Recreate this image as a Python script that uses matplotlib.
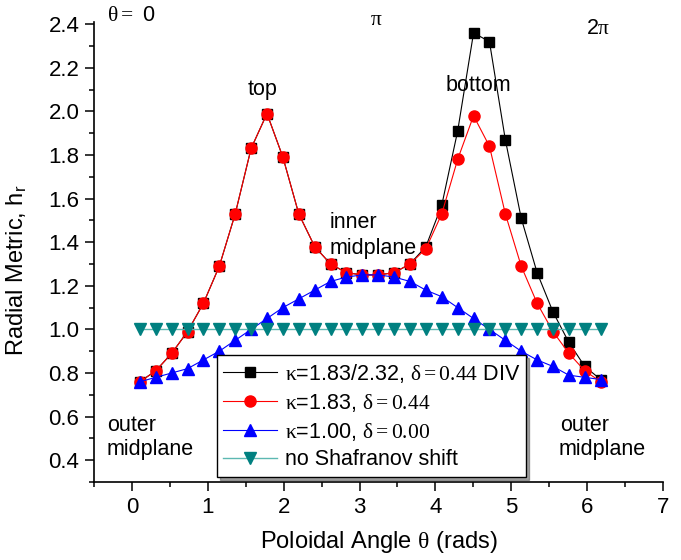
import numpy as np
import matplotlib
matplotlib.use('Agg')
import matplotlib.pyplot as plt
from matplotlib.ticker import MultipleLocator, FormatStrFormatter

plt.rcParams['font.family'] = ['Liberation Sans', 'DejaVu Sans']
plt.rcParams['mathtext.fontset'] = 'custom'
plt.rcParams['mathtext.rm'] = 'Liberation Serif'
plt.rcParams['mathtext.it'] = 'Liberation Serif'
plt.rcParams['mathtext.sf'] = 'Liberation Sans'
plt.rcParams['mathtext.default'] = 'rm'

# poloidal angle of the 30 sample points (cell centres)
theta = (np.arange(30) + 0.5) * 2 * np.pi / 30

h_div = [0.76, 0.81, 0.89, 0.99, 1.12, 1.29, 1.53, 1.83, 1.99, 1.79,
         1.53, 1.38, 1.30, 1.26, 1.25, 1.25, 1.26, 1.30, 1.38, 1.57,
         1.91, 2.36, 2.32, 1.87, 1.51, 1.26, 1.08, 0.94, 0.83, 0.77]
h_elong = [0.76, 0.81, 0.89, 0.99, 1.12, 1.29, 1.53, 1.83, 1.99, 1.79,
           1.53, 1.38, 1.30, 1.26, 1.25, 1.25, 1.26, 1.30, 1.37, 1.53,
           1.78, 1.98, 1.84, 1.53, 1.29, 1.12, 0.99, 0.89, 0.81, 0.76]
h_circ = [0.76, 0.78, 0.80, 0.82, 0.86, 0.90, 0.95, 1.00, 1.05, 1.10,
          1.14, 1.18, 1.22, 1.24, 1.25, 1.25, 1.24, 1.22, 1.18, 1.15,
          1.10, 1.05, 1.00, 0.95, 0.90, 0.86, 0.83, 0.79, 0.78, 0.77]
h_noshift = [1.00] * 30

labels = [r'$\kappa$=1.83/2.32, $\delta{=}0.44$ DIV',
          r'$\kappa$=1.83, $\delta{=}0.44$',
          r'$\kappa$=1.00, $\delta{=}0.00$',
          'no Shafranov shift']

fig = plt.figure(figsize=(6.81, 5.6), dpi=100)
ax = fig.add_axes([94/681, 1 - 482/560, 569/681, 460/560])

ax.plot(theta, h_div, '-s', color='k', lw=0.8, ms=7.2, mec='k', label=labels[0])
ax.plot(theta, h_elong, '-o', color='red', lw=0.8, ms=8, mec='red', label=labels[1])
ax.plot(theta, h_circ, '-^', color='blue', lw=0.8, ms=8, mec='blue', label=labels[2])
ax.plot(theta, h_noshift, '-v', color='#5cb8b2', lw=1.0, ms=8,
        mfc='#008080', mec='#008080', label=labels[3])

ax.set_xlim(-0.5, 7)
ax.set_ylim(0.3, 2.41)
ax.xaxis.set_major_locator(MultipleLocator(1))
ax.xaxis.set_minor_locator(MultipleLocator(0.5))
ax.yaxis.set_major_locator(MultipleLocator(0.2))
ax.yaxis.set_minor_locator(MultipleLocator(0.1))
ax.yaxis.set_major_formatter(FormatStrFormatter('%.1f'))
ax.tick_params(which='major', length=6.5, width=1.1, labelsize=16, pad=4)
ax.tick_params(which='minor', length=3.5, width=1.1)
for s in ['top', 'right']:
    ax.spines[s].set_visible(False)
for s in ['left', 'bottom']:
    ax.spines[s].set_linewidth(1.2)

ax.set_xlabel(r'Poloidal Angle $\theta$ (rads)', fontsize=17, labelpad=8)
ax.set_ylabel(r'Radial Metric, h$_\mathsf{r}$', fontsize=17)
ax.yaxis.set_label_coords(-0.115, 0.46)

# annotations
kw = dict(fontsize=15.5, clip_on=False)
ax.text(-0.33, 2.44, r'$\theta=$ 0', va='center', ha='left', **kw)
ax.text(3.22, 2.42, r'$\pi$', va='center', ha='center', **kw)
ax.text(6.14, 2.38, r'2$\pi$', va='center', ha='center', **kw)
ax.text(1.72, 2.10, 'top', va='center', ha='center', **kw)
ax.text(4.56, 2.12, 'bottom', va='center', ha='center', **kw)
ax.text(2.6, 1.49, 'inner', va='center', ha='left', **kw)
ax.text(2.6, 1.37, 'midplane', va='center', ha='left', **kw)
ax.text(-0.33, 0.56, 'outer', va='center', ha='left', **kw)
ax.text(-0.33, 0.45, 'midplane', va='center', ha='left', **kw)
ax.text(5.65, 0.56, 'outer', va='center', ha='left', **kw)
ax.text(5.62, 0.45, 'midplane', va='center', ha='left', **kw)

leg = ax.legend(loc='lower left', bbox_to_anchor=(0.216, 0.011), borderaxespad=0,
                fontsize=15.5, numpoints=1, handlelength=2.5, handletextpad=0.35,
                labelspacing=0.32, borderpad=0.3, fancybox=False, shadow=True,
                framealpha=1)
leg.get_frame().set_edgecolor('k')
leg.get_frame().set_linewidth(1.0)

fig.savefig('out.png', dpi=100)
